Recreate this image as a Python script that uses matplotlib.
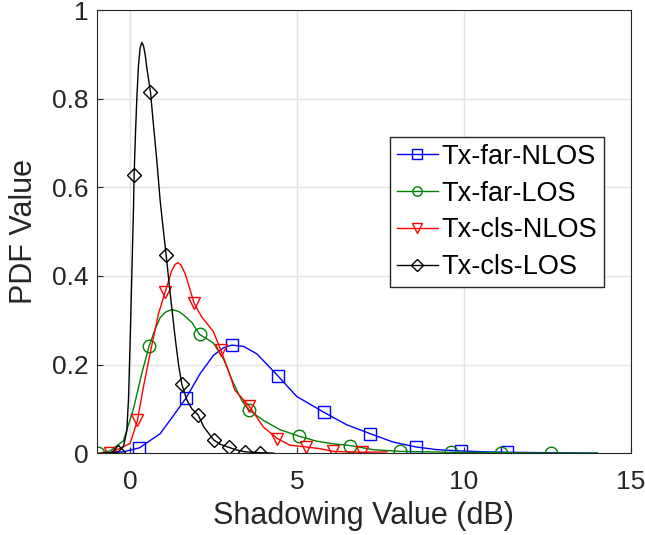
import numpy as np
import matplotlib.pyplot as plt

# curve points (x in dB, y = pdf)
far_nlos_x = [-0.9, -0.2, 0.9, 1.3, 2.1, 2.5, 2.8, 3.4, 3.8, 4.99, 6.49, 7.88, 9.18, 10.6, 12.5, 14.0]
far_nlos_y = [0.0, 0.003, 0.044, 0.085, 0.18, 0.221, 0.238, 0.241, 0.224, 0.128, 0.064, 0.025,
              0.008, 0.003, 0.001, 0.0]
far_nlos_mx = [0.28, 1.68, 3.05, 4.42, 5.81, 7.19, 8.56, 9.9, 11.3]
far_nlos_my = [0.012, 0.125, 0.244, 0.175, 0.092, 0.044, 0.014, 0.005, 0.002]

far_los_x = [-0.6, -0.2, 0.1, 0.35, 0.75, 0.9, 1.05, 1.25, 1.45, 1.6, 1.85, 2.3, 2.5, 2.8, 3.1,
             3.35, 3.99, 4.49, 5.59, 6.09, 7.28, 14.0]
far_los_y = [0.005, 0.028, 0.1, 0.18, 0.28, 0.306, 0.318, 0.324, 0.32, 0.312, 0.295, 0.258,
             0.248, 0.212, 0.157, 0.118, 0.074, 0.053, 0.027, 0.021, 0.008, 0.0]
far_los_mx = [-0.95, 0.57, 2.08, 3.57, 5.07, 6.6, 8.08, 9.6, 11.1, 12.6]
far_los_my = [0.0, 0.242, 0.268, 0.097, 0.038, 0.017, 0.004, 0.002, 0.001, 0.0]

cls_nlos_x = [-0.9, 0.0, 0.4, 0.6, 0.85, 1.25, 1.35, 1.43, 1.52, 1.65, 2.14, 2.49, 2.94, 3.14,
              3.99, 4.79, 5.69, 7.7]
cls_nlos_y = [0.0, 0.022, 0.15, 0.226, 0.315, 0.413, 0.426, 0.43, 0.425, 0.405, 0.308, 0.275,
              0.187, 0.142, 0.059, 0.018, 0.01, 0.003]
cls_nlos_mx = [-0.6, 0.22, 1.05, 1.92, 2.72, 3.57, 4.41, 5.27, 6.09, 6.94]
cls_nlos_my = [0.0, 0.074, 0.364, 0.338, 0.232, 0.106, 0.033, 0.014, 0.004, 0.002]

cls_los_x = [-0.8, -0.2, -0.1, -0.05, 0.0, 0.05, 0.1, 0.16, 0.2, 0.25, 0.3, 0.35, 0.4, 0.45,
             0.5, 0.55, 0.7, 0.8, 0.9, 1.0, 1.2, 1.35, 1.45, 1.7, 1.85, 2.2, 2.7, 3.2, 4.3]
cls_los_y = [0.0, 0.015, 0.05, 0.12, 0.25, 0.4, 0.55, 0.72, 0.8, 0.875, 0.915, 0.927, 0.92,
             0.9, 0.87, 0.845, 0.74, 0.66, 0.57, 0.5, 0.36, 0.26, 0.2, 0.12, 0.1, 0.06, 0.02,
             0.007, 0.0]
cls_los_mx = [-0.35, 0.12, 0.61, 1.08, 1.55, 2.04, 2.5, 2.96, 3.44, 3.9]
cls_los_my = [0.003, 0.628, 0.815, 0.447, 0.155, 0.086, 0.03, 0.013, 0.003, 0.001]

series = [
    ('Tx-far-NLOS', 'b', 's', far_nlos_x, far_nlos_y, far_nlos_mx, far_nlos_my),
    ('Tx-far-LOS', '#008000', 'o', far_los_x, far_los_y, far_los_mx, far_los_my),
    ('Tx-cls-NLOS', 'r', 'v', cls_nlos_x, cls_nlos_y, cls_nlos_mx, cls_nlos_my),
    ('Tx-cls-LOS', 'k', 'D', cls_los_x, cls_los_y, cls_los_mx, cls_los_my),
]


def main():
    plt.rcParams['font.family'] = ['Liberation Sans', 'DejaVu Sans']
    fig = plt.figure(figsize=(6.45, 5.35), dpi=100)
    ax = fig.add_axes([0.150, 0.153, 0.828, 0.828])

    for name, c, m, x, y, mx, my in series:
        ms = 7.5 if m == 'D' else 9
        # the markers sit on the curve, so draw the line through both sets
        px = np.concatenate([x, mx])
        py = np.concatenate([y, my])
        order = np.argsort(px)
        ax.plot(px[order], py[order], color=c, lw=1)
        ax.plot(mx, my, ls='none', marker=m, ms=ms, mfc='none', mec=c, mew=1)
        # legend proxy
        ax.plot([], [], color=c, lw=1, marker=m, ms=ms * 0.75, mfc='none', mec=c, label=name)

    ax.set_xlim(-1, 15)
    ax.set_ylim(0, 1)
    ax.set_xticks([0, 5, 10, 15])
    ax.set_yticks([0, 0.2, 0.4, 0.6, 0.8, 1])
    ax.set_yticklabels(['0', '0.2', '0.4', '0.6', '0.8', '1'])
    ax.grid(True, color='#e3e3e3', lw=1)
    ax.set_axisbelow(True)
    ax.tick_params(direction='in', labelsize=19, length=4, color='#262626', labelcolor='#262626')
    ax.tick_params(axis='x', pad=12)
    ax.tick_params(axis='y', pad=6)
    for s in ax.spines.values():
        s.set_color('#262626')
    ax.set_xlabel('Shadowing Value (dB)', fontsize=22, color='#262626', labelpad=5)
    ax.set_ylabel('PDF Value', fontsize=22, color='#262626', labelpad=9)

    ax.legend(loc='upper left', bbox_to_anchor=(0.605, 0.744), bbox_transform=fig.transFigure,
              fontsize=19.5, handlelength=1.5, handletextpad=0.15, borderpad=0.25,
              labelspacing=0.4, borderaxespad=0, fancybox=False, edgecolor='#262626',
              framealpha=1)

    fig.savefig('out.png', dpi=100)


if __name__ == '__main__':
    main()
